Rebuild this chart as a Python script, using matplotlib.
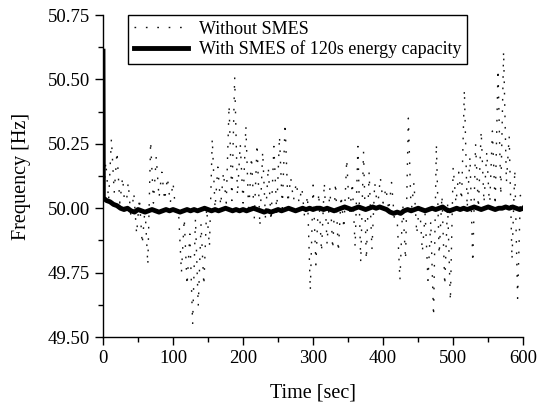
import numpy as np
import matplotlib
matplotlib.use("Agg")
import matplotlib.pyplot as plt
from matplotlib.ticker import MultipleLocator

# frequency without SMES: one peak and one trough per 8 s window
peaks = [50.18, 50.27, 50.22, 50.12, 50.10, 50.06, 50.04, 50.00, 50.26, 50.20,
         50.14, 50.12, 50.10, 49.98, 49.96, 49.90, 49.96, 49.94, 50.00, 50.27,
         50.16, 50.14, 50.40, 50.51, 50.25, 50.32, 50.20, 50.25, 50.22, 50.16,
         50.24, 50.28, 50.33, 50.12, 50.10, 50.08, 50.05, 50.09, 50.06, 50.10,
         50.08, 50.10, 50.05, 50.19, 50.10, 50.24, 50.22, 50.14, 50.10, 50.12,
         50.08, 50.10, 49.96, 50.02, 50.35, 50.10, 50.02, 49.98, 49.95, 50.25,
         50.05, 50.02, 50.16, 50.14, 50.46, 50.20, 50.25, 50.30, 50.22, 50.30,
         50.54, 50.61, 50.28, 50.15, 50.05]
troughs = [50.03, 50.06, 50.02, 49.98, 49.96, 49.90, 49.86, 49.78, 50.02, 50.04,
           50.03, 50.02, 49.98, 49.75, 49.70, 49.55, 49.62, 49.70, 49.85, 50.00,
           50.01, 50.02, 50.03, 50.05, 50.02, 49.98, 49.96, 49.93, 49.96, 49.95,
           49.98, 50.00, 50.02, 50.03, 50.02, 49.96, 49.68, 49.78, 49.83, 49.86,
           49.84, 49.83, 49.92, 49.97, 49.85, 49.79, 49.80, 49.84, 50.00, 50.02,
           49.99, 49.96, 49.72, 49.80, 49.98, 49.90, 49.83, 49.72, 49.58, 49.82,
           49.70, 49.64, 50.02, 50.03, 50.00, 49.79, 50.00, 50.02, 50.00, 50.01,
           50.05, 50.10, 49.80, 49.65, 50.00]
start_without = 50.03

# frequency with SMES
time_with = [0, 0.5] + list(range(5, 601, 5))
freq_with = [50.61, 50.04,
             50.030, 50.025, 50.015, 50.010, 50.000, 49.995, 50.000, 49.990, 49.985, 49.995,
             49.990, 49.985, 49.990, 49.995, 49.990, 49.985, 49.990, 49.995, 49.990, 49.995,
             49.990, 49.985, 49.990, 49.995, 49.990, 49.995, 49.990, 49.995, 50.000, 49.995,
             49.990, 49.995, 49.990, 49.995, 50.000, 49.995, 49.990, 49.995, 49.990, 49.995,
             49.990, 49.995, 50.000, 49.995, 49.990, 49.985, 49.990, 49.985, 49.990, 49.995,
             49.990, 49.995, 50.000, 49.995, 49.990, 49.995, 50.000, 49.995, 50.000, 49.995,
             50.000, 50.000, 49.995, 50.000, 49.995, 49.990, 49.995, 50.000, 50.005, 50.000,
             49.995, 50.000, 50.005, 50.000, 49.995, 50.000, 50.005, 50.000, 50.005, 50.000,
             49.995, 49.985, 49.980, 49.985, 49.980, 49.990, 49.995, 49.990, 49.995, 50.000,
             49.995, 49.990, 49.995, 50.000, 49.995, 50.000, 50.005, 49.995, 49.990, 49.995,
             50.000, 49.995, 50.000, 49.995, 50.000, 50.005, 50.000, 49.995, 50.000, 50.005,
             50.000, 49.995, 50.000, 50.000, 50.005, 50.000, 50.005, 50.000, 49.995, 50.000]

freq_without = [start_without]
for p, t in zip(peaks, troughs):
    freq_without += [p, t]
time_without = np.arange(0, 601, 4)

plt.rcParams['font.family'] = ['Liberation Serif', 'DejaVu Serif']

fig = plt.figure(figsize=(5.45, 4.08), dpi=100)
ax = fig.add_axes([0.189, 0.174, 0.771, 0.789])

ax.plot(time_without, freq_without, color='#111111', lw=1.0,
        linestyle=(0, (1.2, 7.0)), label='Without SMES')
ax.plot(time_with, freq_with, color='black', lw=3.5, label='With SMES of 120s energy capacity')

ax.set_xlim(0, 600)
ax.set_ylim(49.5, 50.75)
ax.xaxis.set_major_locator(MultipleLocator(100))
ax.xaxis.set_minor_locator(MultipleLocator(50))
ax.yaxis.set_major_locator(MultipleLocator(0.25))
ax.yaxis.set_minor_locator(MultipleLocator(0.125))
ax.yaxis.set_major_formatter(matplotlib.ticker.FormatStrFormatter('%.2f'))
ax.tick_params(which='major', direction='out', length=6, width=1, labelsize=13.5)
ax.tick_params(which='minor', direction='out', length=3.5, width=1)
ax.spines['top'].set_visible(False)
ax.spines['right'].set_visible(False)
ax.spines['left'].set_linewidth(1)
ax.spines['bottom'].set_linewidth(1)

ax.set_xlabel('Time [sec]', fontsize=14.5, labelpad=12)
ax.set_ylabel('Frequency [Hz]', fontsize=14.5, labelpad=12)

leg = ax.legend(loc='upper left', bbox_to_anchor=(0.06, 1.0), borderaxespad=0,
                fontsize=13, fancybox=False, edgecolor='black', framealpha=1,
                handlelength=3.0, handletextpad=0.6, borderpad=0.3, labelspacing=0.15)
leg.get_frame().set_linewidth(1)

fig.savefig('out.png', dpi=100)
